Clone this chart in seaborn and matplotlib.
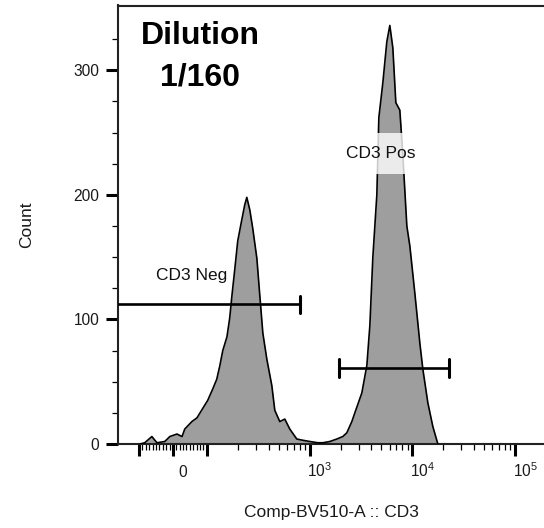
import numpy as np
import pandas as pd
import seaborn as sns
import matplotlib
matplotlib.use('Agg')
import matplotlib.pyplot as plt
from matplotlib.ticker import FixedLocator, FixedFormatter
from matplotlib.transforms import ScaledTranslation

# =============================================================================
# # Histogram (CD3 intensity vs event count)
# =============================================================================
cd3_intensity = [-97, -83, -62, -47, -24, -9, 12, 27, 35, 56, 71, 89, 102, 114, 125,
                 134, 143, 157, 167, 175, 187, 200, 219, 234, 245, 262, 280, 307,
                 328, 351, 384, 429, 459, 513, 574, 642, 751, 860, 1006, 1203, 1346,
                 1574, 1842, 2107, 2304, 2578, 2757, 3225, 3608, 3859, 4127, 4316,
                 4513, 4721, 5163, 5646, 6039, 6459, 6908, 7555, 8080, 8840, 9456,
                 10576, 11830, 12657, 14157, 15830, 17710]
event_count = [0, 1, 6, 1, 2, 6, 8, 6, 12, 18, 21, 29, 35, 44, 52,
               63, 75, 86, 101, 118, 140, 163, 180, 192, 198, 188, 173, 149,
               119, 89, 68, 47, 27, 18, 20, 12, 4, 3, 2, 1, 1,
               2, 4, 6, 9, 18, 25, 41, 63, 95, 150, 175,
               200, 262, 290, 323, 336, 318, 274, 268, 232, 175, 159,
               121, 81, 60, 33, 14, 0]

# gates: (name, left, right, height)
gate_names = ['CD3 Neg', 'CD3 Pos']
gate_left = [-400, 1926]
gate_right = [805, 22660]
gate_y = [112, 61]

x_major = [-100, 0, 100, 1000, 10000, 100000]
x_major_labels = ['', '0', '', r'$\mathregular{10^3}$', r'$\mathregular{10^4}$', r'$\mathregular{10^5}$']

hist = pd.DataFrame({'intensity': cd3_intensity, 'count': event_count})

sns.set_style('white')
plt.rcParams['font.family'] = ['Liberation Sans', 'DejaVu Sans']
plt.rcParams['text.color'] = 'black'

fig = plt.figure(figsize=(5.44, 5.28), dpi=100)
ax = fig.add_axes([118 / 544, 1 - 444 / 528, 426 / 544, 438.5 / 528])

ax.set_xscale('symlog', linthresh=100, linscale=0.297)
ax.set_xlim(-160, 191000)
ax.set_ylim(0, 352)

ax.fill_between(hist['intensity'], 0, hist['count'], color='#9e9e9e', lw=0, zorder=2)
sns.lineplot(data=hist, x='intensity', y='count', color='black', lw=1.2,
             estimator=None, sort=False, ax=ax, zorder=3)

# gate bars
for name, lo, hi, gy in zip(gate_names, gate_left, gate_right, gate_y):
    ax.plot([lo, hi], [gy, gy], color='black', lw=1.9, zorder=4, solid_capstyle='butt')
    ax.plot([hi, hi], [gy - 7, gy + 7], color='black', lw=2.2, zorder=4)
    if lo > -160:
        ax.plot([lo, lo], [gy - 7, gy + 7], color='black', lw=2.2, zorder=4)

ax.text(-50, 135, 'CD3 Neg', fontsize=12.5, ha='left', va='center', color='#111111', zorder=5)
ax.text(4900, 233, 'CD3 Pos', fontsize=12.5, ha='center', va='center', color='#111111',
        zorder=6, bbox=dict(boxstyle='square,pad=0.75', fc='white', ec='none', alpha=0.8))

ax.text(0.193, 0.882, 'Dilution\n1/160', transform=ax.transAxes, fontsize=23,
        fontweight='bold', ha='center', va='center', linespacing=1.5, color='black')

# ticks
ax.xaxis.set_major_locator(FixedLocator(x_major))
ax.xaxis.set_major_formatter(FixedFormatter(x_major_labels))
minors = [v for v in range(-90, 100, 10) if v != 0]
for dec in [100, 1000, 10000]:
    minors += [k * dec for k in range(2, 10)]
ax.xaxis.set_minor_locator(FixedLocator(minors))
ax.yaxis.set_major_locator(FixedLocator([0, 100, 200, 300]))
ax.yaxis.set_minor_locator(FixedLocator([25, 50, 75, 125, 150, 175, 225, 250, 275, 325]))

ax.tick_params(which='major', direction='out', length=8.5, width=2.2, color='black',
               labelsize=11.2, labelcolor='#1a1a1a')
ax.tick_params(which='minor', direction='out', length=4.3, width=0.9, color='black')
ax.tick_params(axis='y', which='major', pad=5, left=True)
ax.tick_params(axis='y', which='minor', left=True)
ax.tick_params(axis='x', which='major', pad=15, bottom=True)
ax.tick_params(axis='x', which='minor', bottom=True)

offset = ScaledTranslation(10 / 100, 0, fig.dpi_scale_trans)
for t in ax.xaxis.get_major_ticks():
    t.label1.set_transform(t.label1.get_transform() + offset)
    t.label1.set_verticalalignment('baseline')

for side in ['left', 'top', 'bottom']:
    ax.spines[side].set_color('#222222')
    ax.spines[side].set_linewidth(1.5)
ax.spines['right'].set_visible(False)

ax.set_xlabel('Comp-BV510-A :: CD3', fontsize=12.5, color='#1a1a1a')
ax.set_ylabel('Count', fontsize=12.5, color='#1a1a1a')
ax.xaxis.set_label_coords(0.501, -0.14)
ax.yaxis.set_label_coords(-0.197, 0.5)

fig.savefig('out.png', dpi=100)
